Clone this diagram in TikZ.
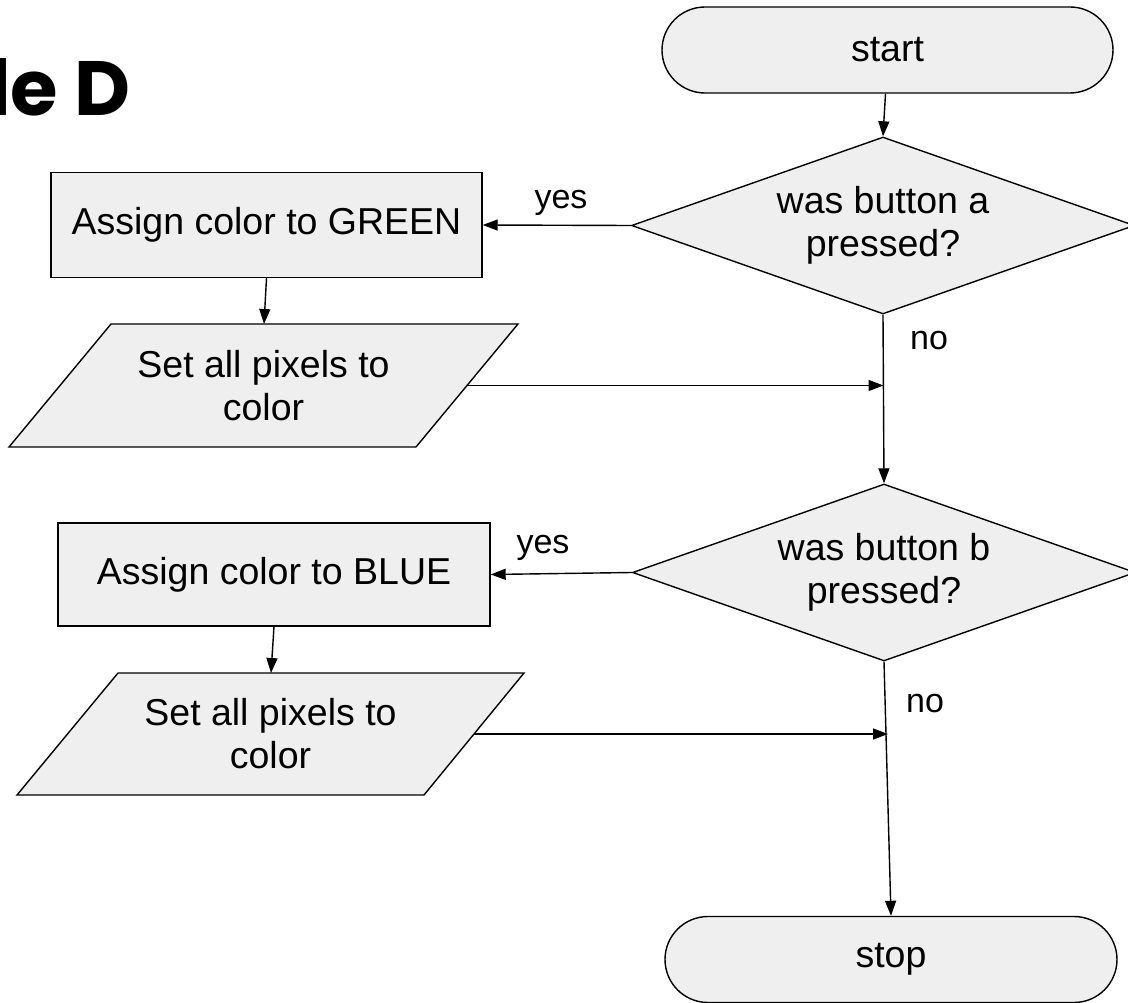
\documentclass[tikz,border=0pt]{standalone}
\usepackage{fontspec}
\setmainfont{Liberation Sans}
\newfontfamily\titlefont{Poppins}
\usetikzlibrary{arrows.meta,shapes.geometric,shapes.misc}
\definecolor{shapegray}{HTML}{EFEFEF}

\begin{document}
\begin{tikzpicture}[x=1pt,y=-1pt,
  shapebase/.style={draw=black, line width=1.4pt, fill=shapegray},
  flowtext/.style={font=\fontsize{37.5}{43}\selectfont, align=center},
  terminal/.style={shapebase, flowtext, rounded rectangle, minimum width=451pt, minimum height=86pt, inner sep=0pt},
  procbox/.style={shapebase, flowtext, rectangle, inner sep=0pt},
  decision/.style={shapebase, flowtext, diamond, aspect=2.84, minimum width=503pt, minimum height=177pt, inner sep=0pt},
  paragon/.style={shapebase, line join=miter},
  arrowline/.style={line width=1.4pt, -{Triangle[length=15pt,width=11pt]}},
  edgelabel/.style={font=\fontsize{34}{40}\selectfont, inner sep=0pt}]

\useasboundingbox (0,0) rectangle (1128,1003);
\clip (0,0) rectangle (1128,1003);

% heading
\node[anchor=base west, inner sep=0pt, font=\titlefont\bfseries\fontsize{77}{80}\selectfont] (title) at (-12,116) {le D};

% terminals and decisions
\node[terminal] (start) at (887.5,50) {start};
\node[decision] (dec1) at (883,225.5) {was button a\\pressed?};
\node[decision] (dec2) at (884,572.5) {was button b\\pressed?};
\node[terminal, minimum width=452pt] (stop) at (891,959.5) {stop};

% process boxes
\node[procbox, minimum width=431pt, minimum height=105pt] (green) at (266.5,225) {Assign color to GREEN};
\node[procbox, minimum width=432pt, minimum height=103pt] (blue) at (274,574.5) {Assign color to BLUE};

% output parallelograms
\filldraw[paragon] (111,324) -- (518,324) -- (416,447) -- (9,447) -- cycle;
\node[flowtext] (setA) at (263.5,385.5) {Set all pixels to\\color};
\coordinate (setAtop) at (264,324);
\coordinate (setAeast) at (467,385.5);

\filldraw[paragon] (118,673) -- (524,673) -- (424,795) -- (17,795) -- cycle;
\node[flowtext] (setB) at (270.5,734) {Set all pixels to\\color};
\coordinate (setBtop) at (271,673);
\coordinate (setBeast) at (474,734);

% junctions on the main line
\coordinate (joinA) at (883.5,385.5);
\coordinate (joinB) at (888,734);

% connectors
\draw[arrowline] ([xshift=-2pt]start.south) -- (dec1.north);
\draw[arrowline] (dec1.west) -- (green.east);
\draw[arrowline] (green.south) -- (setAtop);
\draw[arrowline] (setAeast) -- (joinA);
\draw[arrowline] (dec1.south) -- (dec2.north);
\draw[arrowline] (dec2.west) -- (blue.east);
\draw[arrowline] (blue.south) -- (setBtop);
\draw[arrowline] (setBeast) -- (joinB);
\draw[arrowline] (dec2.south) -- (stop.north);

% branch labels
\node[edgelabel] (yesA) at (561,203) {yes};
\node[edgelabel] (noA) at (929,341) {no};
\node[edgelabel] (yesB) at (543,548) {yes};
\node[edgelabel] (noB) at (925,704) {no};
\end{tikzpicture}
\end{document}
